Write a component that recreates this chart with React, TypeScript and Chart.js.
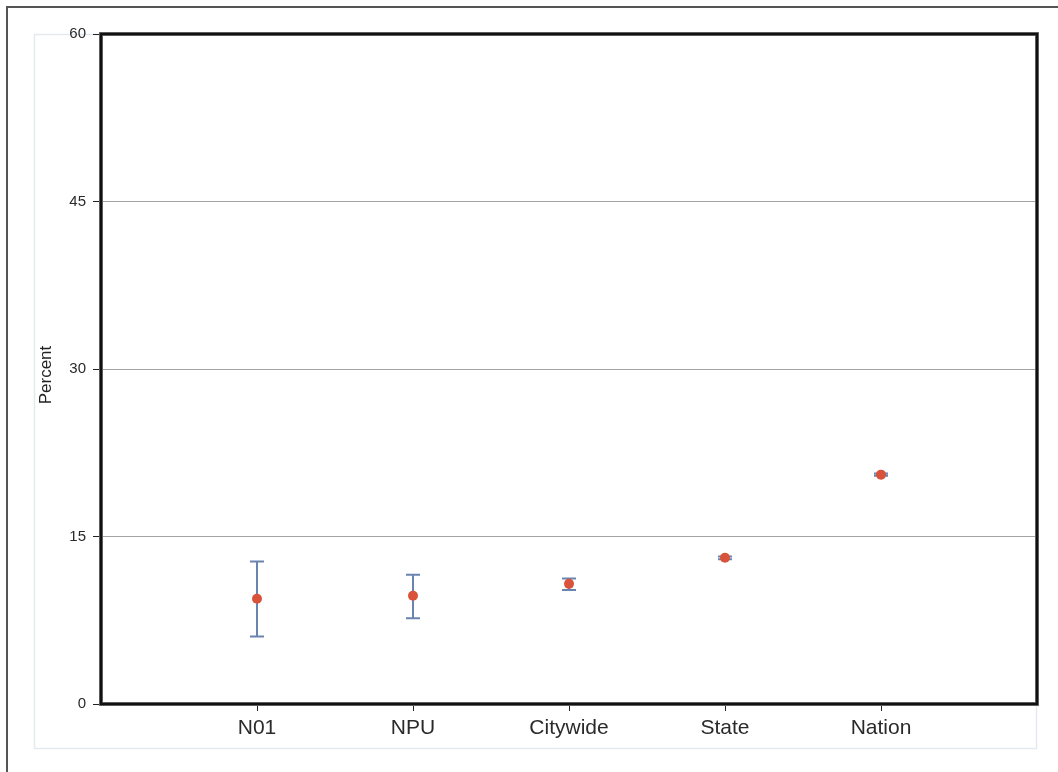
import React, { useEffect, useRef } from 'react';
import { Chart, registerables } from 'chart.js';

Chart.register(...registerables);

const categories = ['N01', 'NPU', 'Citywide', 'State', 'Nation'];
const estimates = [9.42, 9.69, 10.76, 13.09, 20.54];
const lowerCI = [6.04, 7.69, 10.22, 12.97, 20.44];
const upperCI = [12.76, 11.57, 11.25, 13.22, 20.65];
const yTickValues = [0, 15, 30, 45, 60];
const yAxisTitle = 'Percent';

const FONT = '"Liberation Sans", Arial, Helvetica, sans-serif';

export default function App() {
  const ref = useRef<HTMLCanvasElement | null>(null);

  useEffect(() => {
    const canvas = ref.current;
    if (!canvas) return;

    const decorPlugin = {
      id: 'decor',
      beforeDraw(chart: any) {
        const ctx = chart.ctx;
        ctx.save();
        ctx.fillStyle = '#ffffff';
        ctx.fillRect(0, 0, chart.width, chart.height);
        ctx.strokeStyle = '#555555';
        ctx.lineWidth = 2;
        ctx.strokeRect(7, 7, 1200, 1200);
        ctx.strokeStyle = '#e4e9ee';
        ctx.lineWidth = 1.5;
        ctx.strokeRect(34.5, 34.5, 1002, 714);
        ctx.restore();
      },
      beforeDatasetsDraw(chart: any) {
        const ctx = chart.ctx;
        const xs = chart.scales.x;
        const ys = chart.scales.y;
        ctx.save();
        ctx.strokeStyle = '#6a84b0';
        ctx.lineWidth = 2;
        for (let i = 0; i < categories.length; i++) {
          const x = xs.getPixelForValue(i + 1);
          const yl = ys.getPixelForValue(lowerCI[i]);
          const yu = ys.getPixelForValue(upperCI[i]);
          ctx.beginPath();
          ctx.moveTo(x, yl);
          ctx.lineTo(x, yu);
          ctx.moveTo(x - 7, yl);
          ctx.lineTo(x + 7, yl);
          ctx.moveTo(x - 7, yu);
          ctx.lineTo(x + 7, yu);
          ctx.stroke();
        }
        ctx.restore();
      },
      afterDraw(chart: any) {
        const ctx = chart.ctx;
        const a = chart.chartArea;
        ctx.save();
        ctx.strokeStyle = '#777777';
        ctx.lineWidth = 4;
        ctx.strokeRect(a.left, a.top, a.right - a.left, a.bottom - a.top);
        ctx.strokeStyle = '#111111';
        ctx.lineWidth = 2.5;
        ctx.strokeRect(a.left, a.top, a.right - a.left, a.bottom - a.top);
        ctx.translate(46, 375);
        ctx.rotate(-Math.PI / 2);
        ctx.fillStyle = '#222222';
        ctx.font = `17px ${FONT}`;
        ctx.textAlign = 'center';
        ctx.textBaseline = 'middle';
        ctx.fillText(yAxisTitle, 0, 0);
        ctx.restore();
      },
    };

    const chart = new Chart(canvas, {
      type: 'scatter',
      data: {
        datasets: [
          {
            label: 'Estimate',
            data: estimates.map((v, i) => ({ x: i + 1, y: v })),
            backgroundColor: '#d9523a',
            borderColor: '#d9523a',
            borderWidth: 0,
            pointRadius: 5,
            pointHoverRadius: 5,
          },
        ],
      },
      options: {
        animation: false,
        responsive: false,
        devicePixelRatio: 1,
        layout: { padding: { left: 0, right: 21, top: 34, bottom: 0 } },
        plugins: {
          legend: { display: false },
          tooltip: { enabled: false },
          title: { display: false },
        },
        scales: {
          x: {
            type: 'linear',
            min: 0,
            max: 6,
            afterBuildTicks(scale: any) {
              scale.ticks = categories.map((_, i) => ({ value: i + 1 }));
            },
            afterFit(scale: any) {
              scale.height = 68;
            },
            border: { display: false },
            grid: {
              drawOnChartArea: false,
              drawTicks: true,
              tickLength: 7,
              tickColor: '#222222',
              lineWidth: 1,
            },
            ticks: {
              autoSkip: false,
              maxRotation: 0,
              padding: 5,
              color: '#2a2a2a',
              font: { family: FONT, size: 21 },
              callback: (v: any) => categories[Number(v) - 1] ?? '',
            },
          },
          y: {
            type: 'linear',
            min: 0,
            max: 60,
            afterBuildTicks(scale: any) {
              scale.ticks = yTickValues.map((v) => ({ value: v }));
            },
            afterFit(scale: any) {
              scale.width = 101;
            },
            border: { display: false },
            grid: {
              color: '#a3a3a3',
              lineWidth: 1,
              tickLength: 8,
              tickColor: '#222222',
            },
            ticks: {
              padding: 7,
              color: '#2a2a2a',
              font: { family: FONT, size: 15 },
            },
          },
        },
      },
      plugins: [decorPlugin],
    } as any);

    return () => chart.destroy();
  }, []);

  return (
    <div style={{ position: 'absolute', left: 0, top: 0, width: 1058, height: 772, overflow: 'hidden' }}>
      <canvas ref={ref} width={1058} height={772} style={{ display: 'block', width: 1058, height: 772 }} />
    </div>
  );
}
